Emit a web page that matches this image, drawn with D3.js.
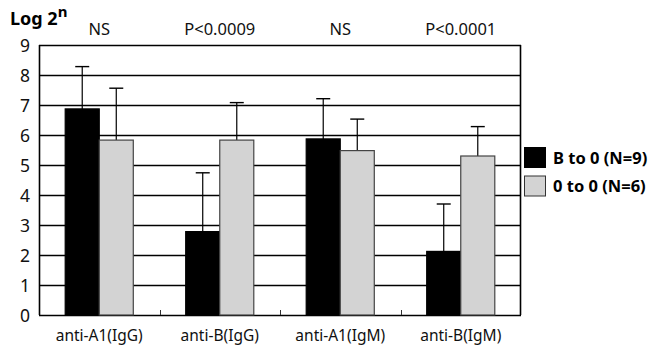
<!DOCTYPE html>
<html>
<head>
<meta charset="utf-8">
<script src="https://cdn.jsdelivr.net/npm/d3@7"></script>
<style>
  html, body { margin: 0; padding: 0; background: #fff; }
  svg { display: block; font-family: "Noto Sans", "Open Sans", sans-serif; }
</style>
</head>
<body>
<svg id="chart" width="653" height="348"></svg>
<script>
// data
const categories = ['anti-A1(IgG)', 'anti-B(IgG)', 'anti-A1(IgM)', 'anti-B(IgM)']
const pLabels = ['NS', 'P<0.0009', 'NS', 'P<0.0001']
const seriesNames = ['B to 0 (N=9)', '0 to 0 (N=6)']
const bTo0Mean = [6.87, 2.78, 5.87, 2.12]
const bTo0Err = [1.41, 1.96, 1.34, 1.58]
const zeroTo0Mean = [5.83, 5.83, 5.48, 5.30]
const zeroTo0Err = [1.73, 1.25, 1.05, 0.98]
const yTicks = [0, 1, 2, 3, 4, 5, 6, 7, 8, 9]

const colors = ['#000000', '#d3d3d3']
const strokes = ['#000000', '#444444']

const svg = d3.select('#chart')
const margin = { top: 45, left: 39, right: 132, bottom: 33 }
const width = 653 - margin.left - margin.right
const height = 348 - margin.top - margin.bottom

const g = svg.append('g')
  .attr('transform', `translate(${margin.left},${margin.top})`)

const x = d3.scaleBand()
  .domain(categories)
  .range([0, width])
  .paddingInner(0)
  .paddingOuter(0)

const x1 = d3.scaleBand()
  .domain(seriesNames)
  .range([0, x.bandwidth()])
  .paddingInner(0)
  .paddingOuter(0.77)

const y = d3.scaleLinear()
  .domain([0, 9])
  .range([height, 0])

// gridlines
g.append('g')
  .selectAll('line')
  .data(yTicks)
  .join('line')
  .attr('x1', 0)
  .attr('x2', width)
  .attr('y1', d => Math.round(y(d)) + 0.5)
  .attr('y2', d => Math.round(y(d)) + 0.5)
  .attr('stroke', '#000')
  .attr('stroke-width', 1.5)

// frame sides
g.append('line')
  .attr('x1', 0.5).attr('x2', 0.5)
  .attr('y1', 0).attr('y2', height)
  .attr('stroke', '#000').attr('stroke-width', 1.6)
g.append('line')
  .attr('x1', width - 0.5).attr('x2', width - 0.5)
  .attr('y1', 0).attr('y2', height)
  .attr('stroke', '#000').attr('stroke-width', 1.6)

// y axis labels
const yAxis = d3.axisLeft(y).tickValues(yTicks).tickSize(0).tickPadding(9)
g.append('g')
  .call(yAxis)
  .call(a => a.select('.domain').remove())
  .selectAll('text')
  .attr('font-size', 17.5)
  .attr('font-family', '"Noto Sans", sans-serif')
  .attr('fill', '#111')
  .attr('dy', '0.38em')

// category separators at the bottom
g.append('g')
  .selectAll('line')
  .data(categories.slice(1))
  .join('line')
  .attr('x1', d => Math.round(x(d)) + 0.5)
  .attr('x2', d => Math.round(x(d)) + 0.5)
  .attr('y1', height - 5)
  .attr('y2', height)
  .attr('stroke', '#333')
  .attr('stroke-width', 1)

// bars
const series = [
  { name: seriesNames[0], mean: bTo0Mean, err: bTo0Err },
  { name: seriesNames[1], mean: zeroTo0Mean, err: zeroTo0Err }
]

series.forEach((s, si) => {
  const rows = categories.map((c, i) => ({ c, v: s.mean[i], e: s.err[i] }))
  const sg = g.append('g')

  // error bars (upper only)
  sg.selectAll('line.err')
    .data(rows)
    .join('line')
    .attr('class', 'err')
    .attr('x1', d => x(d.c) + x1(s.name) + x1.bandwidth() / 2)
    .attr('x2', d => x(d.c) + x1(s.name) + x1.bandwidth() / 2)
    .attr('y1', d => y(d.v))
    .attr('y2', d => y(d.v + d.e))
    .attr('stroke', '#000')
    .attr('stroke-width', 1.2)
  sg.selectAll('line.cap')
    .data(rows)
    .join('line')
    .attr('class', 'cap')
    .attr('x1', d => x(d.c) + x1(s.name) + x1.bandwidth() / 2 - 7)
    .attr('x2', d => x(d.c) + x1(s.name) + x1.bandwidth() / 2 + 7)
    .attr('y1', d => y(d.v + d.e))
    .attr('y2', d => y(d.v + d.e))
    .attr('stroke', '#000')
    .attr('stroke-width', 1.4)

  sg.selectAll('rect')
    .data(rows)
    .join('rect')
    .attr('x', d => x(d.c) + x1(s.name))
    .attr('y', d => y(d.v))
    .attr('width', x1.bandwidth())
    .attr('height', d => y(0) - y(d.v))
    .attr('fill', colors[si])
    .attr('stroke', strokes[si])
    .attr('stroke-width', 1.2)
})

// category labels
g.append('g')
  .selectAll('text')
  .data(categories)
  .join('text')
  .attr('x', d => x(d) + x.bandwidth() / 2)
  .attr('y', height + 26)
  .attr('text-anchor', 'middle')
  .attr('font-size', 15.5)
  .attr('fill', '#111')
  .text(d => d)

// significance labels
g.append('g')
  .selectAll('text')
  .data(categories)
  .join('text')
  .attr('x', d => x(d) + x.bandwidth() / 2)
  .attr('y', -10)
  .attr('text-anchor', 'middle')
  .attr('font-size', 16.5)
  .attr('fill', '#111')
  .text((d, i) => pLabels[i])

// y title
const title = svg.append('text')
  .attr('x', 10)
  .attr('y', 25)
  .attr('font-size', 18)
  .attr('font-weight', 'bold')
  .attr('fill', '#000')
title.append('tspan').text('Log 2')
title.append('tspan')
  .attr('dy', -8)
  .attr('font-size', 15)
  .text('n')

// legend
const legend = svg.append('g')
  .attr('transform', `translate(${margin.left + width + 3},147)`)
const li = legend.selectAll('g')
  .data(seriesNames)
  .join('g')
  .attr('transform', (d, i) => `translate(0,${i * 28.5})`)
li.append('rect')
  .attr('x', 0.5)
  .attr('y', 0.5)
  .attr('width', 21)
  .attr('height', 20)
  .attr('fill', (d, i) => colors[i])
  .attr('stroke', (d, i) => i === 0 ? '#000' : '#333')
  .attr('stroke-width', 1)
li.append('text')
  .attr('x', 29)
  .attr('y', 16.5)
  .attr('font-size', 16.5)
  .attr('font-weight', 'bold')
  .attr('fill', '#000')
  .text(d => d)
</script>
</body>
</html>
